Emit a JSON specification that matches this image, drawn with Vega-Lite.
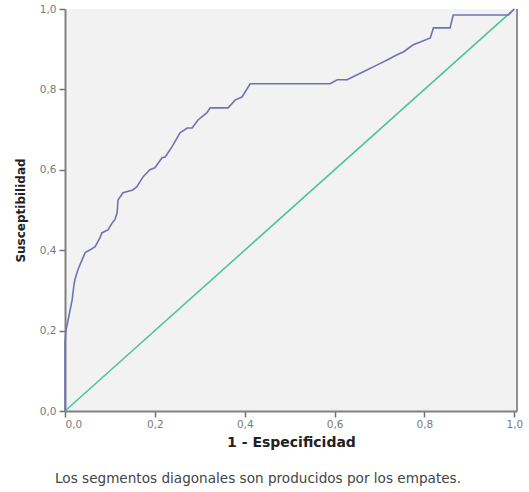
{
  "$schema": "https://vega.github.io/schema/vega-lite/v6.json",
  "autosize": {"type": "none"},
  "width": 452,
  "height": 402,
  "padding": {"left": 65, "top": 9, "right": 12, "bottom": 81},
  "background": "white",
  "config": {
    "view": {"fill": "#F2F2F2", "stroke": null},
    "font": "DejaVu Sans",
    "axis": {
      "grid": false,
      "domainColor": "#808080",
      "domainWidth": 2,
      "tickColor": "#707070",
      "tickSize": 6,
      "tickWidth": 1.5,
      "labelFont": "DejaVu Sans",
      "labelFontSize": 10.5,
      "labelColor": "#7a7a7a",
      "titleFont": "DejaVu Sans",
      "titleFontWeight": "bold",
      "titleColor": "#222222"
    }
  },
  "title": {
    "text": "Los segmentos diagonales son producidos por los empates.",
    "orient": "bottom",
    "anchor": "middle",
    "frame": "group",
    "dx": -33,
    "offset": 22,
    "font": "DejaVu Sans",
    "fontSize": 13.6,
    "fontWeight": "normal",
    "color": "#444444"
  },
  "datasets": {
    "roc": [
      {"fpr": 0.0, "tpr": 0.0},
      {"fpr": 0.0, "tpr": 0.17},
      {"fpr": 0.002, "tpr": 0.2},
      {"fpr": 0.007, "tpr": 0.227},
      {"fpr": 0.016, "tpr": 0.277},
      {"fpr": 0.02, "tpr": 0.314},
      {"fpr": 0.022, "tpr": 0.327},
      {"fpr": 0.029, "tpr": 0.352},
      {"fpr": 0.038, "tpr": 0.376},
      {"fpr": 0.045, "tpr": 0.394},
      {"fpr": 0.056, "tpr": 0.401},
      {"fpr": 0.067, "tpr": 0.409},
      {"fpr": 0.078, "tpr": 0.431},
      {"fpr": 0.082, "tpr": 0.443},
      {"fpr": 0.096, "tpr": 0.451},
      {"fpr": 0.105, "tpr": 0.468},
      {"fpr": 0.111, "tpr": 0.476},
      {"fpr": 0.116, "tpr": 0.493},
      {"fpr": 0.118, "tpr": 0.525},
      {"fpr": 0.129, "tpr": 0.543},
      {"fpr": 0.151, "tpr": 0.55},
      {"fpr": 0.16, "tpr": 0.558},
      {"fpr": 0.174, "tpr": 0.583},
      {"fpr": 0.189, "tpr": 0.6},
      {"fpr": 0.2, "tpr": 0.605},
      {"fpr": 0.216, "tpr": 0.63},
      {"fpr": 0.223, "tpr": 0.632},
      {"fpr": 0.238, "tpr": 0.657},
      {"fpr": 0.256, "tpr": 0.692},
      {"fpr": 0.272, "tpr": 0.704},
      {"fpr": 0.283, "tpr": 0.704},
      {"fpr": 0.296, "tpr": 0.724},
      {"fpr": 0.316, "tpr": 0.742},
      {"fpr": 0.323, "tpr": 0.754},
      {"fpr": 0.363, "tpr": 0.754},
      {"fpr": 0.379, "tpr": 0.774},
      {"fpr": 0.394, "tpr": 0.781},
      {"fpr": 0.412, "tpr": 0.814},
      {"fpr": 0.59, "tpr": 0.814},
      {"fpr": 0.606, "tpr": 0.824},
      {"fpr": 0.628, "tpr": 0.824},
      {"fpr": 0.664, "tpr": 0.844},
      {"fpr": 0.695, "tpr": 0.861},
      {"fpr": 0.717, "tpr": 0.873},
      {"fpr": 0.739, "tpr": 0.886},
      {"fpr": 0.753, "tpr": 0.893},
      {"fpr": 0.775, "tpr": 0.911},
      {"fpr": 0.791, "tpr": 0.918},
      {"fpr": 0.813, "tpr": 0.928},
      {"fpr": 0.82, "tpr": 0.953},
      {"fpr": 0.857, "tpr": 0.953},
      {"fpr": 0.864, "tpr": 0.985},
      {"fpr": 0.987, "tpr": 0.985},
      {"fpr": 1.0, "tpr": 1.0}
    ],
    "ref": [
      {"fpr": 0.0, "tpr": 0.0},
      {"fpr": 1.0, "tpr": 1.0}
    ]
  },
  "layer": [
    {
      "data": {"name": "ref"},
      "mark": {"type": "line", "color": "#4EC4A0", "strokeWidth": 1.6},
      "encoding": {
        "x": {
          "field": "fpr", "type": "quantitative",
          "scale": {"domain": [0, 1.006], "nice": false, "zero": false},
          "axis": {
            "values": [0, 0.2, 0.4, 0.6, 0.8, 1.0],
            "labelExpr": "replace(format(datum.value, '.1f'), '.', ',')",
            "title": "1 - Especificidad",
            "titleFontSize": 14,
            "labelPadding": 2,
            "titlePadding": 6
          }
        },
        "y": {
          "field": "tpr", "type": "quantitative",
          "scale": {"domain": [0, 1], "nice": false},
          "axis": {
            "values": [0, 0.2, 0.4, 0.6, 0.8, 1.0],
            "labelExpr": "replace(format(datum.value, '.1f'), '.', ',')",
            "title": "Susceptibilidad",
            "titleFontSize": 12,
            "labelPadding": 3,
            "titlePadding": 12
          }
        }
      }
    },
    {
      "data": {"name": "roc"},
      "mark": {"type": "line", "color": "#6F73B6", "strokeWidth": 1.6},
      "encoding": {
        "x": {"field": "fpr", "type": "quantitative"},
        "y": {"field": "tpr", "type": "quantitative"}
      }
    },
    {
      "data": {"values": [{"edge": 1.006}]},
      "mark": {"type": "rule", "color": "#909090", "strokeWidth": 2},
      "encoding": {
        "x": {"field": "edge", "type": "quantitative"}
      }
    }
  ]
}
